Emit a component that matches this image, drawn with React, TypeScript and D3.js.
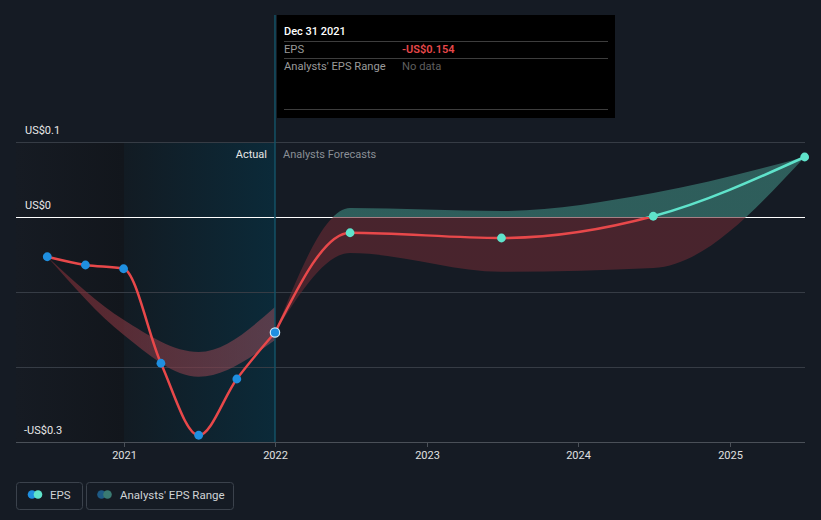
import React from "react";
import * as d3 from "d3";

const pastDates = ["2020-06-30", "2020-09-30", "2020-12-31", "2021-03-31", "2021-06-30", "2021-09-30", "2021-12-31"];
const pastEps = [-0.053, -0.064, -0.069, -0.195, -0.291, -0.216, -0.154];

const pastRangeDates = ["2020-06-30", "2020-12-31", "2021-06-30", "2021-12-31"];
const pastRangeHigh = [-0.053, -0.137, -0.18, -0.12];
const pastRangeLow = [-0.053, -0.157, -0.213, -0.164];

const fcDates = ["2021-12-31", "2022-06-30", "2023-06-30", "2024-06-30", "2025-06-30"];
const fcEps = [-0.154, -0.021, -0.028, 0.001, 0.08];
const fcHigh = [-0.154, 0.012, 0.008, 0.032, 0.08];
const fcLow = [-0.154, -0.048, -0.073, -0.068, 0.08];

const yTicks = [0.1, 0, -0.1, -0.2, -0.3];
const yLabels = [
  { v: 0.1, t: "US$0.1" },
  { v: 0, t: "US$0" },
  { v: -0.3, t: "-US$0.3" },
];
const xTickYears = [2021, 2022, 2023, 2024, 2025];

const W = 821;
const H = 520;
const FONT = "Roboto, 'Noto Sans', sans-serif";

export default function App() {
  const pd = (s: string) => d3.timeParse("%Y-%m-%d")(s) as Date;
  const x = d3.scaleTime().domain([new Date(2021, 0, 1), new Date(2025, 0, 1)]).range([124, 730]);
  const y = d3.scaleLinear().domain([-0.3, 0.1]).range([442, 142]);
  const left = 16;
  const right = 805;
  const now = x(pd("2021-12-31"));
  const y0 = y(0);
  const zeroOff = (y0 - y(0.1)) / (y(-0.3) - y(0.1));

  const past = pastDates.map((d, i) => ({ x: x(pd(d)), y: y(pastEps[i]) }));
  const fc = fcDates.map((d, i) => ({ x: x(pd(d)), y: y(fcEps[i]) }));
  const pastBand = pastRangeDates.map((d, i) => ({ x: x(pd(d)), hi: y(pastRangeHigh[i]), lo: y(pastRangeLow[i]) }));
  const fcBand = fcDates.map((d, i) => ({ x: x(pd(d)), hi: y(fcHigh[i]), lo: y(fcLow[i]) }));

  const line = d3
    .line<{ x: number; y: number }>()
    .x((d) => d.x)
    .y((d) => d.y)
    .curve(d3.curveMonotoneX);
  const area = d3
    .area<{ x: number; hi: number; lo: number }>()
    .x((d) => d.x)
    .y0((d) => d.lo)
    .y1((d) => d.hi)
    .curve(d3.curveMonotoneX);

  const x2021 = x(new Date(2021, 0, 1));

  return (
    <svg width={W} height={H} style={{ position: "absolute", left: 0, top: 0, display: "block" }} fontFamily={FONT}>
      <defs>
        <linearGradient id="bgLeft" x1="0" x2="1" y1="0" y2="0">
          <stop offset="0" stopColor="#161b23" />
          <stop offset="1" stopColor="#12161c" />
        </linearGradient>
        <linearGradient id="bgHi" x1="0" x2="1" y1="0" y2="0">
          <stop offset="0" stopColor="#121b23" />
          <stop offset="1" stopColor="#0b2a39" />
        </linearGradient>
        <linearGradient id="lineGrad" gradientUnits="userSpaceOnUse" x1="0" x2="0" y1={y(0.1)} y2={y(-0.3)}>
          <stop offset={zeroOff} stopColor="#5fe3cb" />
          <stop offset={zeroOff} stopColor="#e8484a" />
        </linearGradient>
        <linearGradient id="bandGrad" gradientUnits="userSpaceOnUse" x1="0" x2="0" y1={y(0.1)} y2={y(-0.3)}>
          <stop offset={zeroOff} stopColor="#3f8a80" stopOpacity={0.6} />
          <stop offset={zeroOff} stopColor="#6b2a33" stopOpacity={0.6} />
        </linearGradient>
        <linearGradient id="pastBandGrad" x1="0" x2="1" y1="0" y2="0">
          <stop offset="0" stopColor="#7a2c34" stopOpacity={0.65} />
          <stop offset="1" stopColor="#8a4a58" stopOpacity={0.6} />
        </linearGradient>
      </defs>
      <rect x={0} y={0} width={W} height={H} fill="#151b24" />
      <rect x={left} y={y(0.1)} width={x2021 - left} height={y(-0.3) - y(0.1)} fill="url(#bgLeft)" />
      <rect x={x2021} y={y(0.1)} width={now - x2021} height={y(-0.3) - y(0.1)} fill="url(#bgHi)" />

      {yTicks.map((v) => (
        <line
          key={v}
          x1={left}
          x2={right}
          y1={Math.round(y(v)) + 0.5}
          y2={Math.round(y(v)) + 0.5}
          stroke={v === 0 ? "#ffffff" : v === -0.3 ? "#4a5058" : "#363c45"}
          strokeWidth={1}
        />
      ))}
      {xTickYears.map((yr) => {
        const xx = Math.round(x(new Date(yr, 0, 1))) + 0.5;
        return (
          <g key={yr}>
            <line x1={xx} x2={xx} y1={y(-0.3)} y2={y(-0.3) + 5} stroke="#4a5058" />
            <text x={xx} y={459} textAnchor="middle" fontSize={11} fill="#e0e0e0">
              {yr}
            </text>
          </g>
        );
      })}
      {yLabels.map((l) => (
        <text key={l.t} x={l.v < 0 ? 24 : 25} y={y(l.v) - 8} fontSize={11} fill="#e8e8e8">
          {l.t}
        </text>
      ))}

      <text x={now - 8} y={158} textAnchor="end" fontSize={11} fill="#e6e6e6">
        Actual
      </text>
      <text x={now + 8} y={158} fontSize={11} fill="#8a8f96">
        Analysts Forecasts
      </text>

      <path d={area(pastBand) || ""} fill="url(#pastBandGrad)" />
      <path d={area(fcBand) || ""} fill="url(#bandGrad)" />

      <path d={line(past) || ""} fill="none" stroke="#e8484a" strokeWidth={2.5} />
      <path d={line(fc) || ""} fill="none" stroke="url(#lineGrad)" strokeWidth={2.5} />

      <line x1={now} x2={now} y1={15} y2={y(-0.3)} stroke="#145266" strokeWidth={1.5} />

      {past.map((p, i) => (
        <circle
          key={i}
          cx={p.x}
          cy={p.y}
          r={i === past.length - 1 ? 4.7 : 4.4}
          fill="#1f8fe0"
          stroke={i === past.length - 1 ? "#cfe8f5" : "none"}
          strokeWidth={1.2}
        />
      ))}
      {fc.slice(1).map((p, i) => (
        <circle key={i} cx={p.x} cy={p.y} r={4.4} fill="#5fe3cb" />
      ))}

      <g>
        <rect x={277} y={15} width={338} height={103} fill="#000000" />
        <text x={284} y={35} fontSize={11} fill="#ffffff" fontWeight={500}>
          Dec 31 2021
        </text>
        <line x1={284} x2={608} y1={41.5} y2={41.5} stroke="#3d3d3d" />
        <text x={284} y={53} fontSize={11.2} fill="#9a9a9a">
          EPS
        </text>
        <text x={402} y={53} fontSize={11} fill="#e8484a" fontWeight={600}>
          -US$0.154
        </text>
        <line x1={284} x2={608} y1={58.5} y2={58.5} stroke="#3d3d3d" />
        <text x={284} y={70} fontSize={11.2} fill="#9a9a9a">
          Analysts' EPS Range
        </text>
        <text x={402} y={70} fontSize={11.2} fill="#5e5e5e">
          No data
        </text>
        <line x1={284} x2={608} y1={109.5} y2={109.5} stroke="#3d3d3d" />
      </g>

      <g>
        <rect x={16.5} y={482.5} width={66} height={27} rx={3} fill="none" stroke="#3b424c" />
        <circle cx={32} cy={494.5} r={4.3} fill="#1f8fe0" />
        <circle cx={38} cy={494.5} r={4.3} fill="#5fe3cb" />
        <text x={50} y={498.5} fontSize={11.5} fill="#d0d3d6">
          EPS
        </text>
        <rect x={86.5} y={482.5} width={147} height={27} rx={3} fill="none" stroke="#3b424c" />
        <circle cx={101.5} cy={494.5} r={4.3} fill="#1e5a85" />
        <circle cx={107.5} cy={494.5} r={4.3} fill="#3a7a72" />
        <text x={120} y={498.5} fontSize={11.5} fill="#d0d3d6">
          Analysts' EPS Range
        </text>
      </g>
    </svg>
  );
}
